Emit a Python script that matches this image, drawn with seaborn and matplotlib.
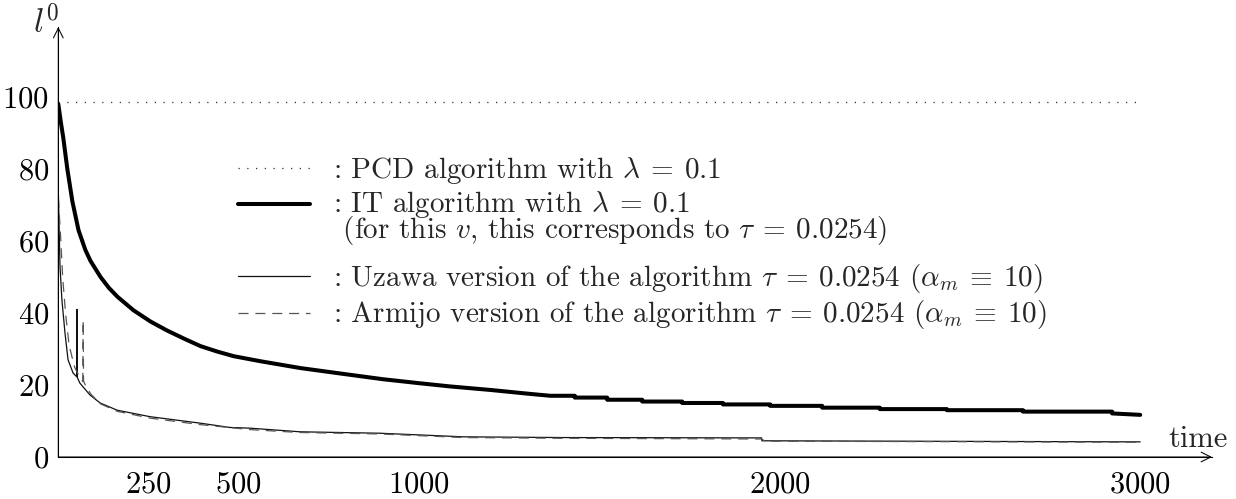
import numpy as np
import pandas as pd
import matplotlib
matplotlib.use('Agg')
import matplotlib.pyplot as plt
import seaborn as sns
from matplotlib.lines import Line2D

# ── Data ──────────────────────────────────────────────────────
pcd_time = [0, 3000]
pcd_l0   = [98.7, 98.7]

it_time = [0, 7, 14, 25, 39, 56, 75, 89, 117, 140, 164, 209, 256, 302, 350,
           394, 440, 486, 560, 671, 781, 900, 1000, 1086, 1200, 1300, 1364,
           1432, 1432, 1522, 1522, 1619, 1619, 1730, 1730, 1843, 1843,
           1974, 1974, 2118, 2118, 2278, 2278, 2464, 2464, 2675, 2675,
           2922, 2922, 3000]
it_l0   = [98, 93, 88.5, 80, 71, 63, 57.5, 54.5, 50, 47, 44.5, 40.7, 37.6, 35.1, 32.8,
           30.8, 29.3, 28.0, 26.6, 24.7, 23.2, 21.6, 20.5, 19.6, 18.6, 17.6, 17.0,
           17.0, 16.5, 16.5, 15.9, 15.9, 15.4, 15.4, 15.0, 15.0, 14.6,
           14.6, 14.2, 14.2, 13.7, 13.7, 13.3, 13.3, 13.0, 13.0, 12.6,
           12.6, 12.1, 11.7]

uzawa_time = [0, 4.7, 10, 18.6, 27, 41, 51, 52, 53, 60, 88, 116, 163, 254,
              393, 476, 532, 670, 892, 1123, 1400, 1950, 1951, 3000]
uzawa_l0   = [74, 53, 43.6, 34.4, 27, 23.3, 22.3, 41, 22, 20.5, 17.2, 15, 13, 11.2,
              9.4, 8.2, 8.0, 7.0, 6.6, 5.6, 5.4, 5.3, 4.5, 4.2]

armijo_time = [0, 6, 12, 20, 30, 45, 60, 68, 69, 70, 75, 90, 116, 163, 254,
               393, 532, 670, 892, 1123, 1400, 1950, 1960, 3000]
armijo_l0   = [72, 62, 50, 40, 31, 25, 22, 21, 38, 21, 20, 17.5, 14.8, 12.7, 10.8,
               9.0, 7.6, 6.8, 6.4, 5.4, 5.2, 5.0, 4.4, 4.1]

x_ticks = [250, 500, 1000, 2000, 3000]
y_ticks = [0, 20, 40, 60, 80, 100]

legend_rows = [
    r': PCD algorithm with $\lambda \:=\: 0.1$',
    r': IT algorithm with $\lambda \:=\: 0.1$' + '\n'
    + r' (for this $v$, this corresponds to $\tau \:=\: 0.0254$)',
    r': Uzawa version of the algorithm $\tau \:=\: 0.0254$ ($\alpha_m \:\equiv\: 10$)',
    r': Armijo version of the algorithm $\tau \:=\: 0.0254$ ($\alpha_m \:\equiv\: 10$)',
]

# ── Style ─────────────────────────────────────────────────────
sns.set_style('white')
plt.rcParams['font.family'] = 'cmr10'
plt.rcParams['mathtext.fontset'] = 'cm'
plt.rcParams['axes.formatter.use_mathtext'] = True

W, H = 1236, 499
fig = plt.figure(figsize=(W / 100, H / 100), dpi=100)
ax = fig.add_axes([58.3 / W, 42 / H, (1212 - 58.3) / W, 430 / H])

dotted = (0, (1, 6))
dashed = (0, (8, 5.5))

sns.lineplot(x=pcd_time, y=pcd_l0, ax=ax, color='#333333', lw=0.9,
             linestyle=dotted, sort=False, estimator=None)
sns.lineplot(x=it_time, y=it_l0, ax=ax, color='black', lw=2.9,
             sort=False, estimator=None)
sns.lineplot(x=uzawa_time, y=uzawa_l0, ax=ax, color='#111111', lw=0.9,
             sort=False, estimator=None)
sns.lineplot(x=armijo_time, y=armijo_l0, ax=ax, color='#555555', lw=0.9,
             linestyle=dashed, sort=False, estimator=None)

ax.set_xlim(0, 3199)
ax.set_ylim(0, 119.4)
ax.set_xticks(x_ticks)
ax.set_yticks(y_ticks)
ax.set_xlabel('')
ax.set_ylabel('')

ax.tick_params(axis='x', direction='inout', length=13.7, width=0.75,
               pad=3.0, labelsize=22, colors='black')
ax.tick_params(axis='y', direction='inout', length=12.2, width=0.75,
               pad=0.5, labelsize=22, colors='black')
ax.yaxis.get_major_ticks()[0].tick1line.set_visible(False)

for s in ['top', 'right']:
    ax.spines[s].set_visible(False)
for s in ['left', 'bottom']:
    ax.spines[s].set_linewidth(0.75)
    ax.spines[s].set_color('black')

arrow = dict(arrowstyle='->,head_length=0.7,head_width=0.35', lw=0.75,
             color='black', shrinkA=0, shrinkB=0)
ax.annotate('', xy=(1, 0), xytext=(0, 0), xycoords='axes fraction',
            textcoords='axes fraction', arrowprops=arrow, annotation_clip=False)
ax.annotate('', xy=(0, 1), xytext=(0, 0), xycoords='axes fraction',
            textcoords='axes fraction', arrowprops=arrow, annotation_clip=False)

# axis names
fig.text(1168 / W, 1 - 447 / H, 'time', fontsize=22, ha='left', va='baseline')
fig.text(33 / W, 1 - 33 / H, r'$l^0$', fontsize=24, ha='left', va='baseline')

# ── Legend (drawn by hand, keys aligned with first text line) ─
keys = [
    (168, dict(color='#333333', lw=0.9, linestyle=dotted)),
    (204, dict(color='black', lw=2.9)),
    (276, dict(color='#111111', lw=0.9)),
    (313, dict(color='#555555', lw=0.9, linestyle=dashed)),
]
for y, kw in keys:
    fig.add_artist(Line2D([238 / W, 310 / W], [1 - y / H, 1 - y / H],
                          transform=fig.transFigure, **kw))

# baselines (the two-line entry is anchored on its last line)
text_pos = [(333, 178), (333, 238), (333, 286), (333, 322)]
for (x, y), label in zip(text_pos, legend_rows):
    fig.text(x / W, 1 - y / H, label, fontsize=21, ha='left', va='baseline',
             linespacing=0.77)

fig.savefig('out.png', dpi=100)
